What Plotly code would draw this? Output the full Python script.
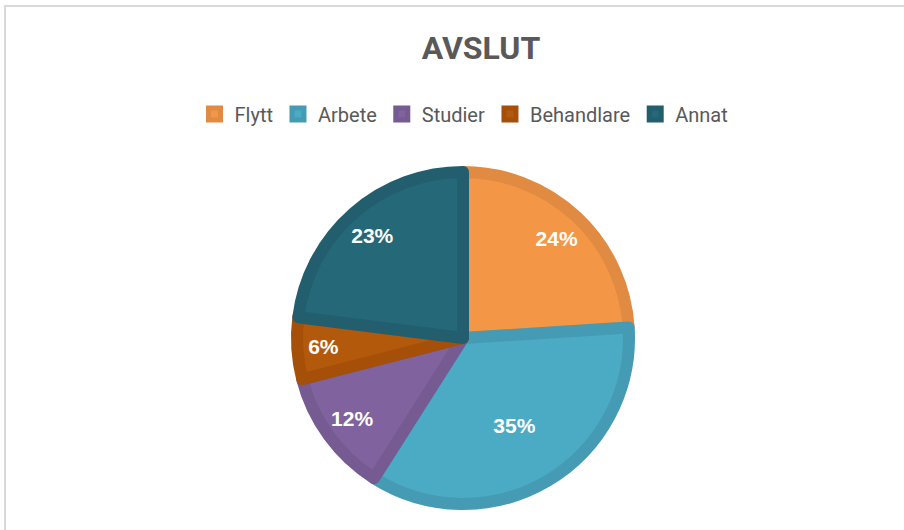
import plotly.graph_objects as go

categories = ["Flytt", "Arbete", "Studier", "Behandlare", "Annat"]
values = [24, 35, 12, 6, 23]
fill_colors = ["#F39646", "#4BAAC4", "#80629F", "#B3590C", "#256878"]
edge_colors = ["#E08A42", "#449BB3", "#765A92", "#A54F08", "#225E6E"]
title_text = "AVSLUT"
# which labels sit near the rim (outer ring) vs. nearer the centre
outer_label = [True, False, True, True, True]

W, H = 904, 530
cx, cy, r = 463, 338, 166
dom = dict(x=[(cx - r) / W, (cx + r) / W], y=[(H - cy - r) / H, (H - cy + r) / H])
lab_font = dict(family="Liberation Sans", size=21, color="white", weight="bold")

fig = go.Figure()
fig.add_trace(go.Pie(
    labels=categories,
    values=values,
    sort=False,
    direction="clockwise",
    rotation=0,
    textinfo="none",
    marker=dict(colors=fill_colors, line=dict(color=edge_colors, width=12)),
    domain=dom,
    hoverinfo="label+percent",
))


def label_ring(hole, show):
    return go.Pie(
        labels=categories,
        values=values,
        sort=False,
        direction="clockwise",
        rotation=0,
        hole=hole,
        texttemplate=["%{percent:.0%}" if s else "" for s in show],
        textposition="inside",
        insidetextorientation="horizontal",
        textfont=lab_font,
        marker=dict(colors=["rgba(0,0,0,0)"] * len(values), line=dict(width=0)),
        domain=dom,
        showlegend=False,
        hoverinfo="skip",
    )


fig.add_trace(label_ring(0.65, outer_label))
fig.add_trace(label_ring(0.22, [not o for o in outer_label]))

fig.update_layout(
    width=W, height=H,
    margin=dict(l=0, r=0, t=0, b=0),
    paper_bgcolor="white",
    plot_bgcolor="white",
    title=dict(text=title_text, x=481 / W, xanchor="center", y=1 - 48 / H, yanchor="middle",
               font=dict(family="Roboto", size=32, color="#595959", weight="bold")),
    legend=dict(orientation="h", x=464 / W, xanchor="center", y=1 - 114 / H, yanchor="middle",
                font=dict(family="Roboto", size=20, color="#595959"),
                itemwidth=30, tracegroupgap=0, bgcolor="rgba(0,0,0,0)"),
    shapes=[dict(type="rect", xref="paper", yref="paper",
                 x0=5 / W, x1=1.05, y0=-0.05, y1=1 - 6 / H,
                 line=dict(color="#D9D9D9", width=2), fillcolor="rgba(0,0,0,0)", layer="below")],
)

fig.write_html("out.html")
